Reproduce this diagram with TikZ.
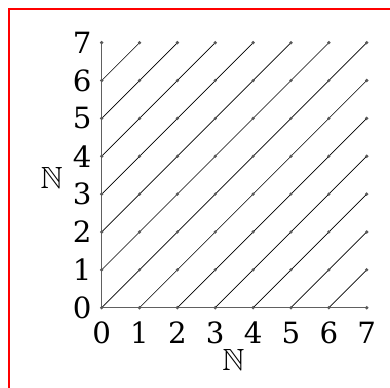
\documentclass[tikz,border=0pt]{standalone}
\usepackage{fontspec}
\usepackage{amssymb}
\setmainfont{DejaVu Serif}
\usetikzlibrary{positioning}

\begin{document}
\begin{tikzpicture}[x=1cm, y=1cm,
    axe/.style={line width=0.8pt, gray!75!black},
    diag/.style={line width=0.5pt, black},
    graduation/.style={font=\fontsize{22}{26}\selectfont, inner sep=0pt},
    ensemble/.style={font=\fontsize{23}{28}\selectfont, inner sep=0pt}]

    % Zone de la figure et cadre rouge (coupé à droite et en bas)
    \useasboundingbox (-2.686,-2.095) rectangle (7.615,8.127);
    \coordinate (R1) at (-2.448,-2.2);
    \coordinate (R2) at (-2.448,7.89);
    \coordinate (R3) at (7.7,7.89);
    \draw[red, line width=0.8pt] (R1) -- (R2) -- (R3);

    % Points du réseau N x N
    \foreach \i in {0,...,7}
        \foreach \j in {0,...,7}
            \coordinate (p-\i-\j) at (\i,\j);

    % Axes
    \draw[axe] (p-0-7) -- (p-0-0) -- (p-7-0);

    % Diagonales (au-dessus puis en dessous de la première)
    \foreach \k in {0,...,6} {
        \pgfmathtruncatemacro\m{7-\k}
        \draw[diag] (p-0-\k) -- (p-\m-7);
    }
    \foreach \k in {1,...,6} {
        \pgfmathtruncatemacro\m{7-\k}
        \draw[diag] (p-\k-0) -- (p-7-\m);
    }

    % Petits points
    \foreach \i in {0,...,7}
        \foreach \j in {0,...,7}
            \fill[gray!70!black] (p-\i-\j) circle (1.4pt);

    % Graduations
    \foreach \k in {0,...,7} {
        \node[graduation, anchor=east, left=0.26cm of p-0-\k] (gy-\k) {\k};
        \node[graduation, anchor=north, below=0.37cm of p-\k-0] (gx-\k) {\k};
    }

    % Noms des axes
    \node[ensemble] (nx) at (3.48,-1.38) {$\mathbb{N}$};
    \node[ensemble] (ny) at (-1.32,3.43) {$\mathbb{N}$};

\end{tikzpicture}
\end{document}
